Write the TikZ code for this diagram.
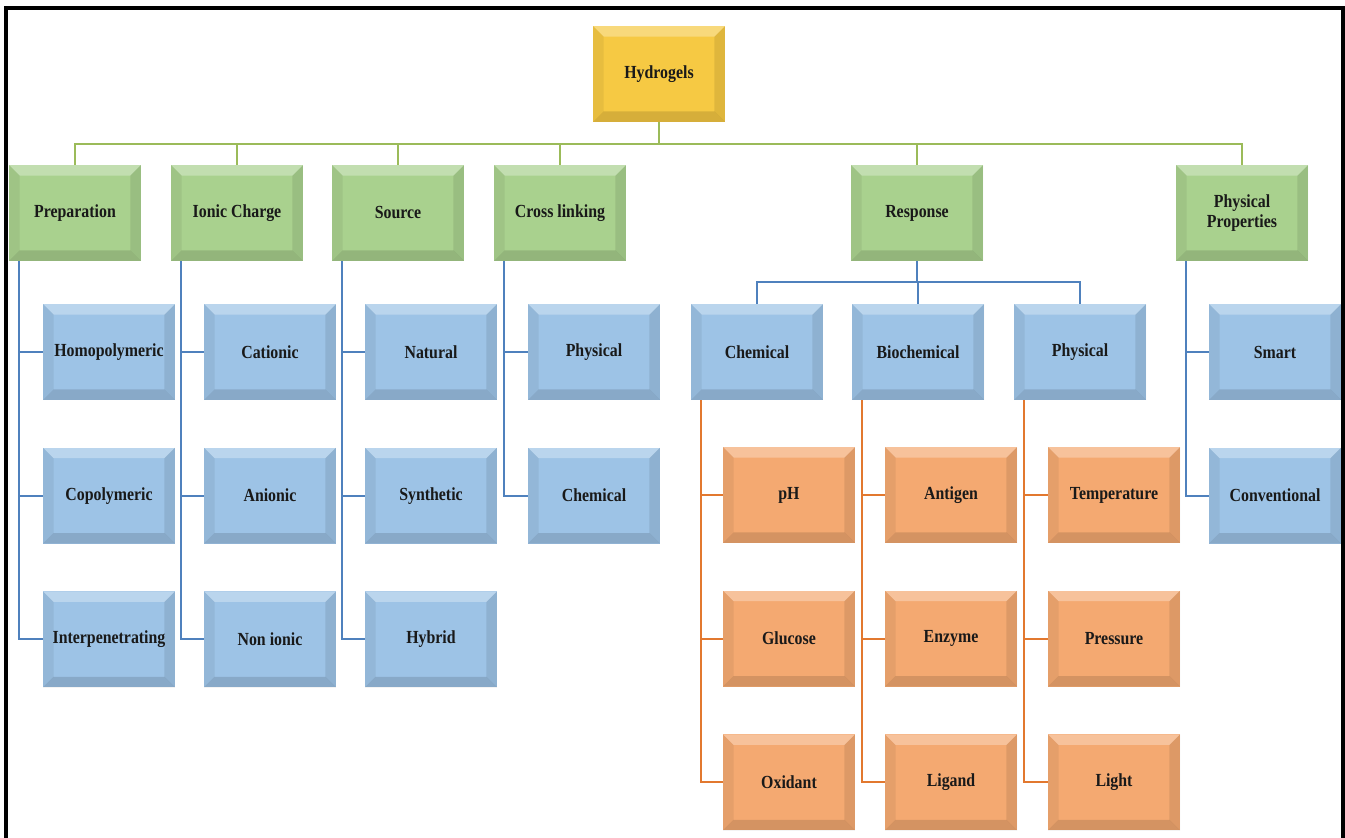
\documentclass[tikz,border=0pt]{standalone}
\usepackage{fontspec}
\setmainfont{Liberation Serif}[FakeStretch=0.86]
\usetikzlibrary{positioning,calc}
\definecolor{rootfill}{HTML}{F6C943}
\definecolor{headfill}{HTML}{A9D18E}
\definecolor{subfill}{HTML}{9DC3E6}
\definecolor{leaffill}{HTML}{F4A971}
\definecolor{busgreen}{HTML}{9BBB59}
\definecolor{busblue}{HTML}{4F81BD}
\definecolor{busorange}{HTML}{E2782F}
\tikzset{bevel/.style={path picture={
    \path (path picture bounding box.north west) coordinate (bnw)
          (path picture bounding box.north east) coordinate (bne)
          (path picture bounding box.south west) coordinate (bsw)
          (path picture bounding box.south east) coordinate (bse);
    \fill[white,opacity=.3] (bnw) -- (bne) -- ([shift={(-6pt,-6pt)}]bne) -- ([shift={(6pt,-6pt)}]bnw) -- cycle;
    \fill[black,opacity=.06] (bnw) -- ([shift={(6pt,-6pt)}]bnw) -- ([shift={(6pt,6pt)}]bsw) -- (bsw) -- cycle;
    \fill[black,opacity=.09] (bne) -- (bse) -- ([shift={(-6pt,6pt)}]bse) -- ([shift={(-6pt,-6pt)}]bne) -- cycle;
    \fill[black,opacity=.13] (bsw) -- (bse) -- ([shift={(-6pt,6pt)}]bse) -- ([shift={(6pt,6pt)}]bsw) -- cycle;
}}}
\tikzstyle{boxbase} = [rectangle, minimum width=2.64cm, minimum height=1.92cm, inner sep=2pt,
                       align=center, text=black!90, font=\bfseries\fontsize{10.5}{11}\selectfont, bevel]
\tikzstyle{rootbox} = [boxbase, fill=rootfill]
\tikzstyle{headbox} = [boxbase, fill=headfill]
\tikzstyle{subbox} = [boxbase, fill=subfill]
\tikzstyle{leafbox} = [boxbase, fill=leaffill]
\tikzstyle{gline} = [draw=busgreen, line width=1.2pt]
\tikzstyle{bline} = [draw=busblue, line width=1.1pt]
\tikzstyle{oline} = [draw=busorange, line width=1.1pt]
\begin{document}
\begin{tikzpicture}[x=0.02cm, y=-0.02cm]
    \useasboundingbox (0,0) rectangle (1345,838);
    \fill[white] (0,0) rectangle (1345,838);
    \draw[line width=2pt] (6,838) -- (6,8) -- (1343,8) -- (1343,838);

    % Root and main categories
    \node[rootbox] (hyd) at (659,74) {Hydrogels};
    \node[headbox] (prep) at (75,213) {Preparation};
    \node[headbox] (ionic) at (237,213) {Ionic Charge};
    \node[headbox] (source) at (398,213) {Source};
    \node[headbox] (cross) at (560,213) {Cross linking};
    \node[headbox] (resp) at (917,213) {Response};
    \node[headbox] (phys) at (1242,213) {Physical\\Properties};

    % Sub categories
    \node[subbox] (homo) at (109,352) {Homopolymeric};
    \node[subbox, below=0.94cm of homo] (copo) {Copolymeric};
    \node[subbox, below=0.94cm of copo] (inter) {Interpenetrating};
    \node[subbox] (cat) at (270,352) {Cationic};
    \node[subbox, below=0.94cm of cat] (anion) {Anionic};
    \node[subbox, below=0.94cm of anion] (nonion) {Non ionic};
    \node[subbox] (nat) at (431,352) {Natural};
    \node[subbox, below=0.94cm of nat] (synth) {Synthetic};
    \node[subbox, below=0.94cm of synth] (hybrid) {Hybrid};
    \node[subbox] (xphys) at (594,352) {Physical};
    \node[subbox, below=0.94cm of xphys] (xchem) {Chemical};
    \node[subbox] (chem) at (757,352) {Chemical};
    \node[subbox] (biochem) at (918,352) {Biochemical};
    \node[subbox] (rphys) at (1080,352) {Physical};
    \node[subbox] (smart) at (1275,352) {Smart};
    \node[subbox, below=0.94cm of smart] (conv) {Conventional};

    % Stimuli
    \node[leafbox] (ph) at (789,495) {pH};
    \node[leafbox, below=0.94cm of ph] (gluc) {Glucose};
    \node[leafbox, below=0.94cm of gluc] (oxid) {Oxidant};
    \node[leafbox] (antigen) at (951,495) {Antigen};
    \node[leafbox, below=0.94cm of antigen] (enzyme) {Enzyme};
    \node[leafbox, below=0.94cm of enzyme] (ligand) {Ligand};
    \node[leafbox] (temp) at (1114,495) {Temperature};
    \node[leafbox, below=0.94cm of temp] (press) {Pressure};
    \node[leafbox, below=0.94cm of press] (light) {Light};

    % Top bus
    \coordinate (bus) at (0,144);
    \draw[gline] (hyd.south) -- (hyd.south |- bus);
    \draw[gline] (hyd.south |- bus) -| (prep.north);
    \draw[gline] (hyd.south |- bus) -| (ionic.north);
    \draw[gline] (hyd.south |- bus) -| (source.north);
    \draw[gline] (hyd.south |- bus) -| (cross.north);
    \draw[gline] (hyd.south |- bus) -| (resp.north);
    \draw[gline] (hyd.south |- bus) -| (phys.north);

    % Response bus
    \coordinate (rbus) at (0,282);
    \draw[bline] (resp.south) -- (resp.south |- rbus);
    \draw[bline] (resp.south |- rbus) -| (chem.north);
    \draw[bline] (resp.south |- rbus) -| (biochem.north);
    \draw[bline] (resp.south |- rbus) -| (rphys.north);

    % Side spines
    \draw[bline] ([xshift=0.2cm]prep.south west) |- (homo.west);
    \draw[bline] ([xshift=0.2cm]prep.south west) |- (copo.west);
    \draw[bline] ([xshift=0.2cm]prep.south west) |- (inter.west);
    \draw[bline] ([xshift=0.2cm]ionic.south west) |- (cat.west);
    \draw[bline] ([xshift=0.2cm]ionic.south west) |- (anion.west);
    \draw[bline] ([xshift=0.2cm]ionic.south west) |- (nonion.west);
    \draw[bline] ([xshift=0.2cm]source.south west) |- (nat.west);
    \draw[bline] ([xshift=0.2cm]source.south west) |- (synth.west);
    \draw[bline] ([xshift=0.2cm]source.south west) |- (hybrid.west);
    \draw[bline] ([xshift=0.2cm]cross.south west) |- (xphys.west);
    \draw[bline] ([xshift=0.2cm]cross.south west) |- (xchem.west);
    \draw[bline] ([xshift=0.2cm]phys.south west) |- (smart.west);
    \draw[bline] ([xshift=0.2cm]phys.south west) |- (conv.west);
    \draw[oline] ([xshift=0.2cm]chem.south west) |- (ph.west);
    \draw[oline] ([xshift=0.2cm]chem.south west) |- (gluc.west);
    \draw[oline] ([xshift=0.2cm]chem.south west) |- (oxid.west);
    \draw[oline] ([xshift=0.2cm]biochem.south west) |- (antigen.west);
    \draw[oline] ([xshift=0.2cm]biochem.south west) |- (enzyme.west);
    \draw[oline] ([xshift=0.2cm]biochem.south west) |- (ligand.west);
    \draw[oline] ([xshift=0.2cm]rphys.south west) |- (temp.west);
    \draw[oline] ([xshift=0.2cm]rphys.south west) |- (press.west);
    \draw[oline] ([xshift=0.2cm]rphys.south west) |- (light.west);
\end{tikzpicture}
\end{document}
